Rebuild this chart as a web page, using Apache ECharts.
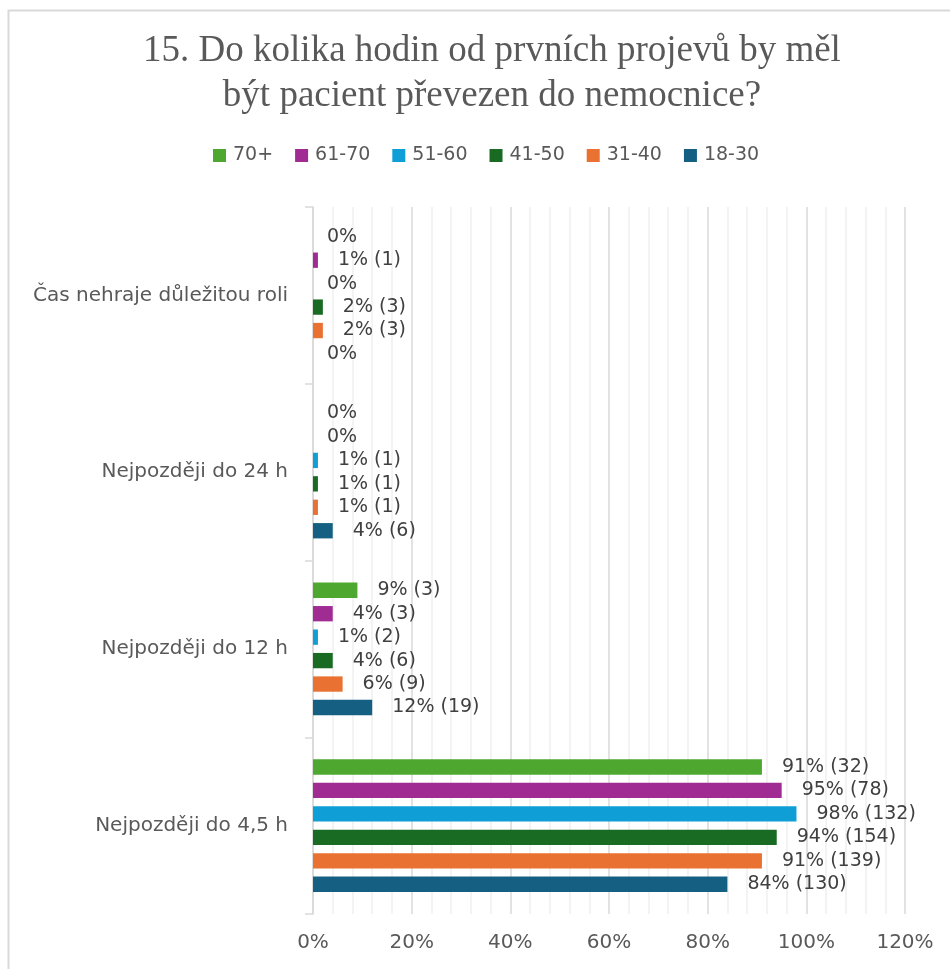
<!DOCTYPE html>
<html>
<head>
<meta charset="utf-8">
<script src="https://cdn.jsdelivr.net/npm/echarts@6/dist/echarts.min.js"></script>
<style>
  html, body { margin: 0; padding: 0; background: #ffffff; }
  #chart { width: 950px; height: 969px; }
</style>
</head>
<body>
<div id="chart"></div>
<script>
// Answer categories, listed top to bottom
const categories = [
  'Čas nehraje důležitou roli',
  'Nejpozději do 24 h',
  'Nejpozději do 12 h',
  'Nejpozději do 4,5 h'
];

// Age groups in legend order
const ageGroups = ['70+', '61-70', '51-60', '41-50', '31-40', '18-30'];

// Share of respondents (%) per category, same order as categories
const pct70plus = [0, 0, 9, 91];
const pct61to70 = [1, 0, 4, 95];
const pct51to60 = [0, 1, 1, 98];
const pct41to50 = [2, 1, 4, 94];
const pct31to40 = [2, 1, 6, 91];
const pct18to30 = [0, 4, 12, 84];

// Number of respondents per category
const cnt70plus = [0, 0, 3, 32];
const cnt61to70 = [1, 0, 3, 78];
const cnt51to60 = [0, 1, 2, 132];
const cnt41to50 = [3, 1, 6, 154];
const cnt31to40 = [3, 1, 9, 139];
const cnt18to30 = [0, 6, 19, 130];

// X axis tick values
const xTicks = [0, 20, 40, 60, 80, 100, 120];

const percents = [pct70plus, pct61to70, pct51to60, pct41to50, pct31to40, pct18to30];
const counts = [cnt70plus, cnt61to70, cnt51to60, cnt41to50, cnt31to40, cnt18to30];
const colors = ['#4EA72E', '#A02B93', '#0F9ED5', '#196B24', '#E97132', '#156082'];

const chart = echarts.init(document.getElementById('chart'), null, { renderer: 'canvas' });

const series = ageGroups.map((name, i) => ({
  name: name,
  type: 'bar',
  barCategoryGap: '25%',
  barGap: '53%',
  itemStyle: { color: colors[i] },
  data: percents[i].map((v) => ({
    value: v,
    label: { distance: v === 0 ? 14 : 20 }
  })),
  label: {
    show: true,
    position: 'right',
    fontFamily: 'DejaVu Sans',
    fontSize: 19,
    color: '#404040',
    formatter: (p) => {
      const n = counts[i][p.dataIndex];
      return p.value === 0 ? '0%' : p.value + '% (' + n + ')';
    }
  }
}));

chart.setOption({
  animation: false,
  backgroundColor: '#ffffff',
  color: colors,
  title: {
    text: '15. Do kolika hodin od prvních projevů by měl\nbýt pacient převezen do nemocnice?',
    left: 487,
    textAlign: 'center',
    top: 24,
    textStyle: {
      fontFamily: 'Liberation Serif',
      fontSize: 37,
      lineHeight: 45,
      fontWeight: 'normal',
      color: '#595959'
    }
  },
  legend: {
    data: ageGroups,
    left: 208,
    top: 141,
    itemWidth: 13,
    itemHeight: 13,
    itemGap: 22,
    icon: 'rect',
    textStyle: {
      fontFamily: 'DejaVu Sans',
      fontSize: 19,
      color: '#595959',
      padding: [0, 0, 0, 2]
    }
  },
  grid: {
    left: 313,
    right: 45,
    top: 207,
    bottom: 55,
    containLabel: false
  },
  xAxis: {
    type: 'value',
    min: xTicks[0],
    max: xTicks[xTicks.length - 1],
    interval: xTicks[1] - xTicks[0],
    axisLine: { show: false },
    axisTick: { show: false },
    axisLabel: {
      formatter: '{value}%',
      fontFamily: 'DejaVu Sans',
      fontSize: 20,
      color: '#595959',
      margin: 19
    },
    splitLine: { show: true, lineStyle: { color: '#d9d9d9', width: 1.5 } },
    minorTick: { show: false, splitNumber: 5 },
    minorSplitLine: { show: true, lineStyle: { color: '#f0f0f0', width: 1.5 } }
  },
  yAxis: {
    type: 'category',
    data: categories,
    inverse: true,
    axisLine: { show: true, lineStyle: { color: '#d9d9d9', width: 1.5 } },
    axisTick: { show: true, length: 8, lineStyle: { color: '#d9d9d9', width: 1.5 } },
    axisLabel: {
      fontFamily: 'DejaVu Sans',
      fontSize: 20,
      color: '#595959',
      margin: 25
    }
  },
  graphic: [{
    type: 'rect',
    shape: { x: 8.5, y: 10.5, width: 1000, height: 1000 },
    style: { fill: 'none', stroke: '#d9d9d9', lineWidth: 2 },
    silent: true,
    z: 100
  }],
  series: series
});
</script>
</body>
</html>
